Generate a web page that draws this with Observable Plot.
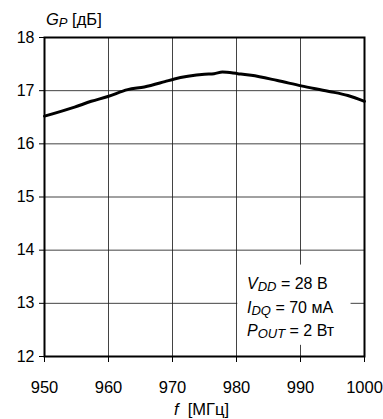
<!DOCTYPE html>
<html>
<head>
<meta charset="utf-8">
<script src="https://cdn.jsdelivr.net/npm/d3@7"></script>
<script src="https://cdn.jsdelivr.net/npm/@observablehq/plot@0.6"></script>
<style>
  html, body { margin: 0; padding: 0; background: #fff; }
  #chart svg { display: block; }
</style>
</head>
<body>
<div id="chart"></div>
<script>
// Power gain vs. frequency
const freq = [950, 954.7, 957.3, 959.9, 963.0, 965.6, 968.8, 970.3, 972.4, 975.0, 976.5, 977.8, 980.2, 982.3, 986.4, 990.1, 994.3, 997.4, 1000];
const gain = [16.52, 16.69, 16.80, 16.89, 17.02, 17.07, 17.17, 17.22, 17.27, 17.31, 17.32, 17.35, 17.32, 17.29, 17.19, 17.09, 16.99, 16.91, 16.80];

const xTicks = [950, 960, 970, 980, 990, 1000];
const yTicks = [12, 13, 14, 15, 16, 17, 18];

// Operating conditions: [symbol, subscript, value]
const condSymbols = ["V", "I", "P"];
const condSubs = ["DD", "DQ", "OUT"];
const condValues = ["= 28 В", "= 70 мА", "= 2 Вт"];

const yLabel = ["G", "P", "[дБ]"];
const xLabel = ["f", "[МГц]"];

const data = freq.map((f, i) => ({f, g: gain[i]}));
const font = "'Liberation Sans', Arial, Helvetica, sans-serif";

// white panel behind the conditions text (in data units)
const panel = {x1: 980.2, x2: 997.9, y1: 12.21, y2: 13.72};

const chart = Plot.plot({
  width: 383,
  height: 419,
  marginLeft: 44,
  marginRight: 19,
  marginTop: 37,
  marginBottom: 63,
  style: {fontFamily: font, color: "#000", background: "#fff"},
  x: {domain: [950, 1000]},
  y: {domain: [12, 18]},
  marks: [
    Plot.gridX(xTicks.slice(1, -1), {stroke: "#222", strokeOpacity: 0.85, strokeWidth: 1}),
    Plot.gridY(yTicks.slice(1, -1), {stroke: "#222", strokeOpacity: 0.85, strokeWidth: 1}),
    Plot.rect([panel], {x1: "x1", x2: "x2", y1: "y1", y2: "y2", fill: "white"}),
    Plot.axisX(xTicks, {tickSize: 6, tickPadding: 19, fontSize: 16.5, tickFormat: d => String(d), label: null, stroke: "#000"}),
    Plot.axisY(yTicks, {tickSize: 5, tickPadding: 5, fontSize: 16, tickFormat: d => String(d), label: null, stroke: "#000"}),
    Plot.frame({stroke: "#000", strokeWidth: 2}),
    Plot.line(data, {x: "f", y: "g", stroke: "#000", strokeWidth: 3, curve: "monotone-x"})
  ]
});

document.getElementById("chart").appendChild(chart);

const svg = d3.select(chart);

// y-axis title with subscript
const yt = svg.append("text")
  .attr("x", 46).attr("y", 25).attr("text-anchor", "start")
  .attr("font-family", font).attr("font-size", 16.5).attr("fill", "#000");
yt.append("tspan").attr("font-style", "italic").text(yLabel[0]);
yt.append("tspan").attr("font-style", "italic").attr("font-size", 13).attr("dy", 2).text(yLabel[1]);
yt.append("tspan").attr("dy", -2).text(" " + yLabel[2]);

// x-axis title
const xt = svg.append("text")
  .attr("x", 174).attr("y", 415).attr("text-anchor", "start")
  .attr("font-family", font).attr("font-size", 16.5).attr("fill", "#000");
xt.append("tspan").attr("font-style", "italic").text(xLabel[0]);
xt.append("tspan").text("\u00a0 " + xLabel[1]);

// operating conditions
condSymbols.forEach((s, i) => {
  const t = svg.append("text")
    .attr("x", 247).attr("y", 289 + i * 23.5).attr("text-anchor", "start")
    .attr("font-family", font).attr("font-size", 16).attr("fill", "#000");
  t.append("tspan").attr("font-style", "italic").text(s);
  t.append("tspan").attr("font-style", "italic").attr("font-size", 13).attr("dy", 2).text(condSubs[i]);
  t.append("tspan").attr("dy", -2).text(" " + condValues[i]);
});
</script>
</body>
</html>
